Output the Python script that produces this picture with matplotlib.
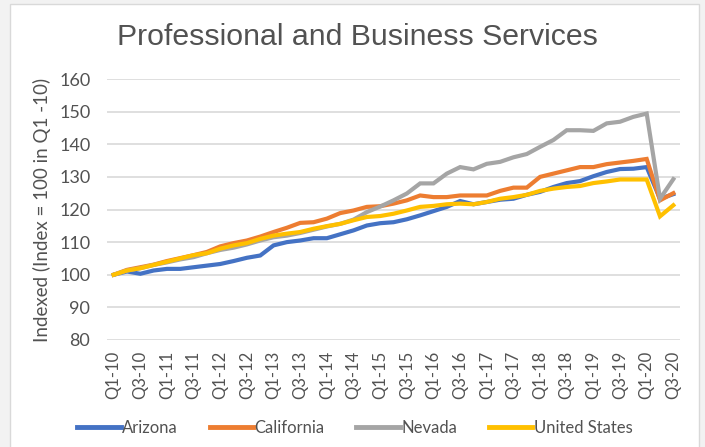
import matplotlib
matplotlib.use("Agg")
import matplotlib.pyplot as plt
from matplotlib.patches import Rectangle

quarters = ["Q1-10","Q2-10","Q3-10","Q4-10","Q1-11","Q2-11","Q3-11","Q4-11",
            "Q1-12","Q2-12","Q3-12","Q4-12","Q1-13","Q2-13","Q3-13","Q4-13",
            "Q1-14","Q2-14","Q3-14","Q4-14","Q1-15","Q2-15","Q3-15","Q4-15",
            "Q1-16","Q2-16","Q3-16","Q4-16","Q1-17","Q2-17","Q3-17","Q4-17",
            "Q1-18","Q2-18","Q3-18","Q4-18","Q1-19","Q2-19","Q3-19","Q4-19",
            "Q1-20","Q2-20","Q3-20"]
tick_labels = ["Q1-10","Q3-10","Q1-11","Q3-11","Q1-12","Q3-12","Q1-13","Q3-13",
               "Q1-14","Q3-14","Q1-15","Q3-15","Q1-16","Q3-16","Q1-17","Q3-17",
               "Q1-18","Q3-18","Q1-19","Q3-19","Q1-20","Q3-20"]

arizona = [100, 101.0, 100.3, 101.3, 101.8, 101.8, 102.3, 102.8, 103.3, 104.2,
           105.2, 105.9, 109.0, 110.0, 110.5, 111.2, 111.2, 112.4, 113.6, 115.1,
           115.8, 116.1, 117.0, 118.2, 119.5, 120.8, 122.6, 121.6, 122.3, 123.0,
           123.3, 124.5, 125.4, 126.9, 128.1, 128.7, 130.2, 131.5, 132.4, 132.5,
           133.0, 123.3, 124.7]
california = [100, 101.5, 102.3, 103.1, 104.2, 105.1, 106.0, 107.0, 108.7, 109.7,
              110.5, 111.7, 113.1, 114.4, 115.9, 116.1, 117.2, 118.9, 119.7, 120.8,
              121.0, 121.8, 122.8, 124.3, 123.8, 123.8, 124.3, 124.3, 124.3, 125.7,
              126.7, 126.7, 130.0, 131.0, 132.0, 133.0, 133.0, 133.9, 134.4, 134.9,
              135.5, 122.8, 125.0]
nevada = [100, 101.3, 102.0, 103.0, 103.8, 104.7, 105.4, 106.6, 107.6, 108.3,
          109.3, 110.5, 111.5, 112.0, 112.8, 113.8, 114.8, 115.6, 116.9, 119.2,
          120.9, 122.8, 124.9, 128.0, 128.0, 131.0, 133.0, 132.3, 134.0, 134.6,
          136.0, 137.0, 139.2, 141.3, 144.3, 144.3, 144.1, 146.4, 146.9, 148.4,
          149.4, 123.3, 129.3]
united_states = [100, 101.3, 102.0, 103.0, 104.0, 105.0, 106.0, 106.6, 108.0, 109.0,
                 109.7, 111.0, 112.0, 112.6, 113.1, 114.1, 114.9, 115.6, 116.7, 117.7,
                 118.0, 118.7, 119.7, 120.8, 121.1, 121.6, 121.8, 121.6, 122.3, 123.3,
                 123.8, 124.5, 125.7, 126.4, 126.9, 127.2, 128.1, 128.6, 129.2, 129.2,
                 129.2, 117.9, 121.3]

series = [("Arizona", arizona, "#4472C4"),
          ("California", california, "#ED7D31"),
          ("Nevada", nevada, "#A5A5A5"),
          ("United States", united_states, "#FFC000")]

W, H = 705, 447
TXT = "#525252"
fig = plt.figure(figsize=(W/100, H/100), dpi=100)
fig.patch.set_facecolor("#f2f2f2")
fig.patches.append(Rectangle((10/W, -0.01), (699-10)/W, 1.01 - 4/H, transform=fig.transFigure,
                             facecolor="white", edgecolor="#d9d9d9", linewidth=1, zorder=-10))

ax = fig.add_axes([107/W, 1-340/H, (680-107)/W, (340-79)/H])
ax.set_facecolor("none")
ax.set_zorder(5)
x = list(range(len(quarters)))
for name, vals, col in series:
    ax.plot(x, vals, color=col, linewidth=3.0, label=name, solid_joinstyle="miter")

ax.set_xlim(-0.5, len(quarters) - 0.5)
ax.set_ylim(80, 160)
ax.set_yticks(range(80, 161, 10))
ax.yaxis.grid(True, color="#d9d9d9", linewidth=1.2)
ax.set_axisbelow(True)
for s in ax.spines.values():
    s.set_visible(False)

tick_pos = [quarters.index(t) for t in tick_labels]
ax.set_xticks(tick_pos)
ax.set_xticklabels(tick_labels, rotation=90, family="Lato", fontsize=12, color=TXT)
for lab in ax.get_yticklabels():
    lab.set_family("Lato"); lab.set_fontsize(13); lab.set_color(TXT)
ax.tick_params(axis="y", length=0, pad=12)
ax.tick_params(axis="x", length=0, pad=8)

ax.set_ylabel("Indexed (Index = 100 in Q1 -10)", family="Lato", fontsize=13.5,
              color=TXT, labelpad=6)

fig.text(357/W, 1-37/H, "Professional and Business Services", ha="center", va="center",
         family="Liberation Sans", fontsize=21.8, color=TXT)

leg = fig.legend(loc="center", bbox_to_anchor=(355/W, 1-428/H), ncol=4, frameon=False,
                 handlelength=2.6, handletextpad=0.1, columnspacing=1.9,
                 prop={"family": "Lato", "size": 12})
for t in leg.get_texts():
    t.set_color(TXT)
for l in leg.get_lines():
    l.set_linewidth(3.5)

fig.savefig("out.png", dpi=100, facecolor=fig.get_facecolor())
